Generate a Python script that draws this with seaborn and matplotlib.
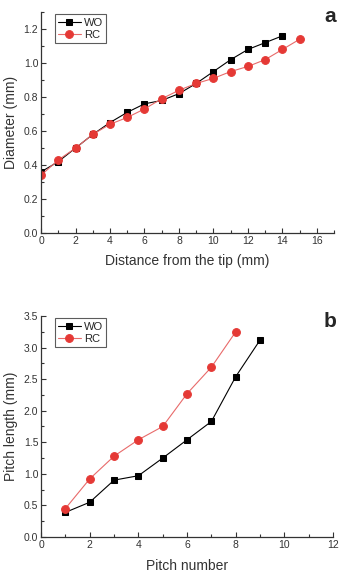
import seaborn as sns
import matplotlib.pyplot as plt
from matplotlib.ticker import AutoMinorLocator

# panel a: diameter vs distance from the tip
dist_wo = [0, 1, 2, 3, 4, 5, 6, 7, 8, 9, 10, 11, 12, 13, 14]
diam_wo = [0.36, 0.42, 0.50, 0.58, 0.65, 0.71, 0.76, 0.78, 0.82, 0.88, 0.95, 1.02, 1.08, 1.12, 1.16]
dist_rc = [0, 1, 2, 3, 4, 5, 6, 7, 8, 9, 10, 11, 12, 13, 14, 15]
diam_rc = [0.34, 0.43, 0.50, 0.58, 0.64, 0.68, 0.73, 0.79, 0.84, 0.88, 0.91, 0.95, 0.98, 1.02, 1.08, 1.14]

# panel b: pitch length vs pitch number
pitch_wo = [1, 2, 3, 4, 5, 6, 7, 8, 9]
plen_wo = [0.39, 0.55, 0.90, 0.97, 1.25, 1.54, 1.83, 2.54, 3.12]
pitch_rc = [1, 2, 3, 4, 5, 6, 7, 8]
plen_rc = [0.45, 0.92, 1.28, 1.54, 1.75, 2.27, 2.69, 3.25]

sns.set_style("ticks")
plt.rcParams['font.family'] = ['Liberation Sans', 'DejaVu Sans']

RED = "#e53935"
GREY = "#333333"

fig = plt.figure(figsize=(3.42, 5.74), dpi=100)
ax_a = fig.add_axes([0.120, 0.594, 0.857, 0.385])
ax_b = fig.add_axes([0.120, 0.0645, 0.854, 0.385])


def draw(ax, x1, y1, x2, y2):
    sns.lineplot(x=x1, y=y1, ax=ax, color="black", lw=0.8, marker="s",
                 markersize=4.8, markeredgecolor="black", markerfacecolor="black",
                 label="WO")
    sns.lineplot(x=x2, y=y2, ax=ax, color="#e86a6a", lw=0.8, marker="o",
                 markersize=5.6, markeredgecolor=RED, markerfacecolor=RED,
                 label="RC")
    sns.despine(ax=ax)
    for s in ["left", "bottom"]:
        ax.spines[s].set_color(GREY)
        ax.spines[s].set_linewidth(0.9)
    ax.xaxis.set_minor_locator(AutoMinorLocator(2))
    ax.yaxis.set_minor_locator(AutoMinorLocator(2))
    ax.tick_params(which="both", direction="in", colors=GREY, labelsize=7.5,
                   width=0.8, labelcolor=GREY)
    ax.tick_params(which="major", length=3.5, pad=2)
    ax.tick_params(which="minor", length=2)
    leg = ax.legend(loc="upper left", bbox_to_anchor=(0.04, 1.0), fontsize=8,
                    frameon=True, fancybox=False, edgecolor=GREY,
                    handlelength=2.0, handletextpad=0.3, borderpad=0.3,
                    labelspacing=0.2, borderaxespad=0.2)
    leg.get_frame().set_linewidth(0.8)


draw(ax_a, dist_wo, diam_wo, dist_rc, diam_rc)
ax_a.set_xlim(0, 17)
ax_a.set_ylim(0, 1.3)
ax_a.set_xticks(range(0, 17, 2))
ax_a.set_yticks([0.0, 0.2, 0.4, 0.6, 0.8, 1.0, 1.2])
ax_a.set_xlabel("Distance from the tip (mm)", fontsize=10, color=GREY, labelpad=6)
ax_a.set_ylabel("Diameter (mm)", fontsize=10, color=GREY, labelpad=4)

draw(ax_b, pitch_wo, plen_wo, pitch_rc, plen_rc)
ax_b.set_xlim(0, 12)
ax_b.set_ylim(0, 3.5)
ax_b.set_xticks(range(0, 13, 2))
ax_b.set_yticks([0.0, 0.5, 1.0, 1.5, 2.0, 2.5, 3.0, 3.5])
ax_b.set_xlabel("Pitch number", fontsize=10, color=GREY, labelpad=7)
ax_b.set_ylabel("Pitch length (mm)", fontsize=10, color=GREY, labelpad=4)

fig.text(0.965, 0.987, "a", fontsize=15, fontweight="bold", ha="center", va="top")
fig.text(0.965, 0.456, "b", fontsize=15, fontweight="bold", ha="center", va="top")

fig.savefig("out.png", dpi=100)
